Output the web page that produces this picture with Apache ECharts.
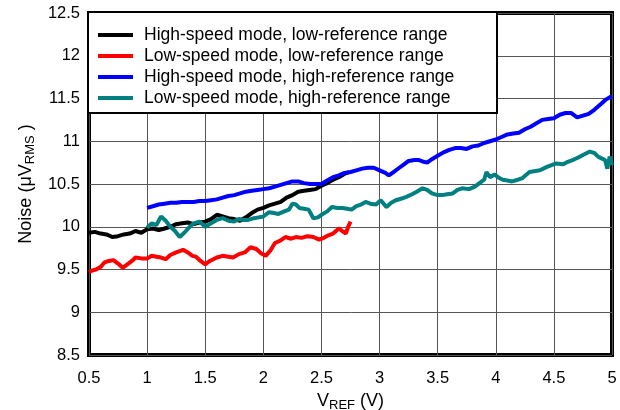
<!DOCTYPE html>
<html>
<head>
    <meta charset="utf-8"/>
    <script src="https://cdn.jsdelivr.net/npm/echarts@6/dist/echarts.min.js"></script>
</head>
<body style="margin:0">
<div id="main" style="width: 620px;height:410px;"></div>
<script type="text/javascript">
    // 读图估计的数据
    var seriesNames = [
        'High-speed mode, low-reference range',
        'Low-speed mode, low-reference range',
        'High-speed mode, high-reference range',
        'Low-speed mode, high-reference range'
    ];
    var seriesColors = ['#000000', '#ff0000', '#0000ff', '#008080'];

    var hsLowX = [0.5,0.55,0.6,0.65,0.7,0.75,0.8,0.85,0.9,0.95,1.0,1.05,1.1,1.15,1.2,1.25,1.3,1.35,1.4,1.45,1.5,1.55,1.6,1.65,1.7,1.75,1.8,1.85,1.9,1.95,2.0,2.05,2.1,2.15,2.2,2.25,2.3,2.35,2.4,2.45,2.5,2.55,2.6,2.65,2.7,2.74];
    var hsLowY = [9.93,9.94,9.92,9.91,9.88,9.89,9.91,9.92,9.95,9.93,9.97,9.98,9.96,9.98,10.0,10.03,10.04,10.05,10.03,10.05,10.06,10.09,10.14,10.12,10.1,10.09,10.07,10.11,10.16,10.2,10.22,10.25,10.27,10.29,10.34,10.37,10.41,10.42,10.43,10.44,10.48,10.51,10.55,10.58,10.62,10.64];

    var lsLowX = [0.5,0.53,0.56,0.6,0.63,0.67,0.71,0.75,0.79,0.83,0.87,0.9,0.95,1.0,1.04,1.08,1.12,1.16,1.2,1.25,1.31,1.35,1.39,1.42,1.46,1.5,1.54,1.6,1.65,1.7,1.74,1.79,1.84,1.89,1.94,1.98,2.02,2.06,2.1,2.15,2.19,2.24,2.28,2.33,2.38,2.43,2.48,2.52,2.56,2.6,2.65,2.68,2.71,2.73,2.75];
    var lsLowY = [9.47,9.49,9.5,9.53,9.58,9.6,9.61,9.57,9.52,9.56,9.6,9.64,9.63,9.63,9.66,9.65,9.64,9.62,9.67,9.7,9.73,9.7,9.66,9.65,9.6,9.56,9.6,9.64,9.66,9.65,9.64,9.68,9.7,9.76,9.74,9.69,9.66,9.72,9.81,9.84,9.88,9.86,9.88,9.87,9.89,9.88,9.85,9.87,9.9,9.92,9.98,9.95,9.92,10.0,10.06];

    var hsHighX = [1.0,1.05,1.1,1.15,1.2,1.25,1.3,1.35,1.4,1.45,1.5,1.55,1.6,1.65,1.7,1.75,1.8,1.85,1.9,1.95,2.0,2.05,2.1,2.15,2.2,2.25,2.3,2.35,2.4,2.45,2.5,2.55,2.6,2.65,2.7,2.75,2.8,2.85,2.9,2.95,3.0,3.05,3.08,3.12,3.17,3.21,3.25,3.3,3.34,3.38,3.41,3.45,3.5,3.55,3.6,3.65,3.7,3.75,3.8,3.85,3.9,3.95,4.0,4.05,4.1,4.15,4.2,4.25,4.3,4.35,4.4,4.45,4.5,4.55,4.6,4.65,4.7,4.75,4.8,4.85,4.9,4.95,5.0];
    var hsHighY = [10.22,10.24,10.26,10.27,10.28,10.28,10.29,10.29,10.29,10.3,10.3,10.31,10.32,10.34,10.36,10.37,10.39,10.41,10.42,10.43,10.44,10.45,10.47,10.49,10.51,10.53,10.53,10.51,10.5,10.5,10.5,10.54,10.58,10.6,10.63,10.64,10.66,10.68,10.69,10.69,10.66,10.63,10.6,10.64,10.69,10.73,10.77,10.78,10.78,10.76,10.75,10.79,10.83,10.87,10.9,10.92,10.92,10.91,10.94,10.95,10.98,11.0,11.02,11.05,11.08,11.09,11.1,11.14,11.17,11.21,11.25,11.26,11.27,11.31,11.33,11.33,11.28,11.3,11.32,11.37,11.43,11.49,11.53];

    var lsHighX = [1.0,1.04,1.08,1.12,1.16,1.2,1.24,1.28,1.32,1.36,1.4,1.45,1.5,1.55,1.6,1.65,1.7,1.75,1.79,1.83,1.87,1.92,1.96,2.0,2.05,2.09,2.13,2.18,2.22,2.25,2.28,2.31,2.35,2.39,2.43,2.47,2.5,2.55,2.59,2.64,2.68,2.72,2.76,2.8,2.84,2.88,2.92,2.97,3.01,3.06,3.1,3.14,3.19,3.23,3.28,3.32,3.37,3.41,3.45,3.5,3.54,3.58,3.63,3.67,3.71,3.77,3.82,3.86,3.9,3.92,3.95,3.99,4.03,4.06,4.1,4.14,4.19,4.23,4.29,4.33,4.38,4.44,4.48,4.52,4.58,4.62,4.66,4.71,4.75,4.81,4.85,4.88,4.91,4.94,4.96,4.98,5.0];
    var lsHighY = [9.99,10.04,10.02,10.12,10.07,10.0,9.95,9.88,9.93,9.99,10.04,10.06,10.0,10.04,10.08,10.1,10.07,10.06,10.09,10.08,10.08,10.1,10.11,10.12,10.17,10.16,10.15,10.18,10.2,10.27,10.26,10.22,10.21,10.2,10.1,10.11,10.14,10.18,10.23,10.22,10.22,10.21,10.2,10.24,10.26,10.29,10.27,10.26,10.31,10.23,10.28,10.31,10.33,10.35,10.38,10.41,10.45,10.43,10.39,10.37,10.37,10.38,10.39,10.43,10.45,10.44,10.47,10.51,10.55,10.64,10.58,10.61,10.57,10.55,10.54,10.53,10.55,10.57,10.64,10.65,10.66,10.7,10.72,10.74,10.73,10.76,10.78,10.81,10.84,10.88,10.86,10.82,10.8,10.78,10.68,10.82,10.72];

    var allX = [hsLowX, lsLowX, hsHighX, lsHighX];
    var allY = [hsLowY, lsLowY, hsHighY, lsHighY];

    var font = '"Liberation Sans", Arial, sans-serif';

    var myChart = echarts.init(document.getElementById('main'));

    var series = [];
    for (var i = 0; i < seriesNames.length; i++) {
        var pts = [];
        for (var j = 0; j < allX[i].length; j++) {
            pts.push([allX[i][j], allY[i][j]]);
        }
        series.push({
            name: seriesNames[i],
            type: 'line',
            data: pts,
            showSymbol: false,
            symbol: 'none',
            lineStyle: {width: 4, color: seriesColors[i]},
            itemStyle: {color: seriesColors[i]}
        });
    }

    var nameRich = {
        a: {fontFamily: font, fontSize: 18, color: '#000', lineHeight: 20, verticalAlign: 'bottom'},
        s: {fontFamily: font, fontSize: 13, color: '#000', lineHeight: 14, verticalAlign: 'bottom', padding: [0, 0, -2, 0]}
    };

    var option = {
        animation: false,
        backgroundColor: '#ffffff',
        grid: {
            left: 89,
            right: 8,
            top: 13,
            bottom: 55,
            show: true,
            containLabel: false,
            outerBoundsMode: 'none',
            borderColor: '#000',
            borderWidth: 4
        },
        legend: {
            orient: 'vertical',
            left: 88,
            top: 12,
            padding: [14, 25, 6, 10],
            itemGap: 3,
            itemWidth: 35,
            itemHeight: 4,
            icon: 'rect',
            backgroundColor: '#ffffff',
            borderColor: '#000',
            borderWidth: 2,
            borderRadius: 0,
            textStyle: {
                fontFamily: font,
                fontSize: 17.5,
                color: '#000',
                lineHeight: 18,
                width: 328,
                padding: [0, 0, 0, 6]
            },
            data: seriesNames
        },
        xAxis: {
            type: 'value',
            min: 0.5,
            max: 5,
            interval: 0.5,
            name: '{a|V}{s|REF}{a| (V)}',
            nameLocation: 'middle',
            nameGap: 30,
            nameTextStyle: {rich: nameRich},
            axisLine: {show: false},
            axisTick: {show: false},
            axisLabel: {margin: 15, fontFamily: font, fontSize: 16.5, color: '#000'},
            splitLine: {lineStyle: {color: '#555', width: 1}}
        },
        yAxis: {
            type: 'value',
            min: 8.5,
            max: 12.5,
            interval: 0.5,
            name: '{a|Noise (μV}{s|RMS}{a| )}',
            nameLocation: 'middle',
            nameGap: 50,
            nameTextStyle: {rich: nameRich},
            axisLine: {show: false},
            axisTick: {show: false},
            axisLabel: {margin: 9, fontFamily: font, fontSize: 16.5, color: '#000'},
            splitLine: {lineStyle: {color: '#555', width: 1}}
        },
        series: series
    };

    myChart.setOption(option);
</script>
</body>
</html>
